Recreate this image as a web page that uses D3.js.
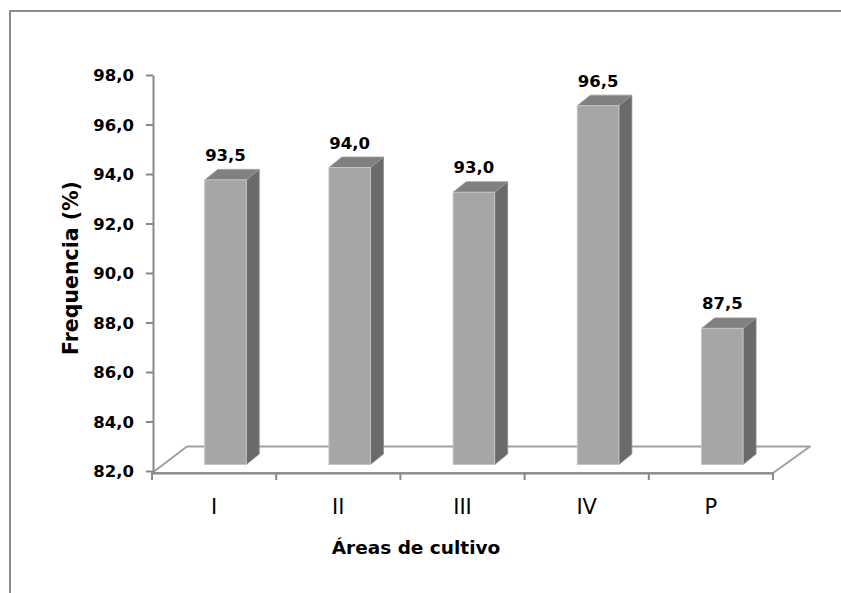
<!DOCTYPE html>
<html>
<head>
<meta charset="utf-8">
<script src="https://cdn.jsdelivr.net/npm/d3@7/dist/d3.min.js"></script>
<style>
  html, body { margin: 0; padding: 0; background: #ffffff; overflow: hidden; }
  svg { display: block; }
</style>
</head>
<body>
<svg id="chart" width="841" height="593"></svg>
<script>
// ---- Data ----
const categories = ["I", "II", "III", "IV", "P"];
const values = [93.5, 94.0, 93.0, 96.5, 87.5];
const yTicks = [82, 84, 86, 88, 90, 92, 94, 96, 98];
const yTitle = "Frequencia (%)";
const xTitle = "Áreas de cultivo";

// ---- Layout ----
const FONT = "'DejaVu Sans', Verdana, sans-serif";
const axisColor = "#888888";
const svg = d3.select("#chart");

const locale = d3.formatLocale({ decimal: ",", thousands: ".", grouping: [3], currency: ["", ""] });
const fmt = locale.format(".1f");

const x = d3.scaleBand().domain(categories).range([152, 773]).paddingInner(0).paddingOuter(0);
const y = d3.scaleLinear().domain([82, 98]).range([471, 75]);

// outer frame (only top and left edges are inside the picture)
svg.append("path")
  .attr("d", "M10,600 V11 H850")
  .attr("fill", "none")
  .attr("stroke", "#8c8c8c").attr("stroke-width", 2);

// floor (3D base)
const frontY = 473, floorDx = 35, floorDy = -26.5;
const x0 = x.range()[0], x1 = x.range()[1];
svg.append("polygon")
  .attr("points", [
    [x0, frontY], [x1, frontY], [x1 + floorDx + 2, frontY + floorDy], [x0 + floorDx, frontY + floorDy]
  ].map(p => p.join(",")).join(" "))
  .attr("fill", "#ffffff")
  .attr("stroke", "#a0a0a0").attr("stroke-width", 2)
  .attr("stroke-linejoin", "round");

// x axis (front edge) with labels
const xAxis = svg.append("g").attr("transform", `translate(0,${frontY})`)
  .call(d3.axisBottom(x).tickSize(0).tickPadding(0));
xAxis.select(".domain").attr("stroke", axisColor).attr("stroke-width", 2);
xAxis.selectAll(".tick text")
  .attr("y", 41).attr("dy", 0)
  .attr("font-family", FONT).attr("font-size", 21)
  .attr("fill", "#000000");
// boundary tick marks
const bounds = categories.map(c => x(c)).concat([x1]);
svg.append("g").selectAll("line").data(bounds).join("line")
  .attr("x1", d => d).attr("x2", d => d)
  .attr("y1", frontY).attr("y2", frontY + 7)
  .attr("stroke", axisColor).attr("stroke-width", 2);

// bars (3D columns)
const fw = 41.5, offX = 11.4, offY = -6.5, depX = 13, depY = -10.5;
const bars = svg.append("g");
categories.forEach((c, i) => {
  const v = values[i];
  const fx = x(c) + x.bandwidth() / 2 - fw / 2 + offX;
  const top = y(v) + offY;
  const base = y(82) + offY;
  // side face
  bars.append("polygon")
    .attr("points", [[fx + fw, top], [fx + fw + depX, top + depY], [fx + fw + depX, base + depY], [fx + fw, base]]
      .map(p => p.join(",")).join(" "))
    .attr("fill", "#6a6a6a").attr("stroke", "#8a8a8a").attr("stroke-width", 0.8);
  // top face
  bars.append("polygon")
    .attr("points", [[fx, top], [fx + depX, top + depY], [fx + fw + depX, top + depY], [fx + fw, top]]
      .map(p => p.join(",")).join(" "))
    .attr("fill", "#808080").attr("stroke", "#9a9a9a").attr("stroke-width", 0.8);
  // front face
  bars.append("rect")
    .attr("x", fx).attr("y", top)
    .attr("width", fw).attr("height", base - top)
    .attr("fill", "#a6a6a6").attr("stroke", "#c4c4c4").attr("stroke-width", 1);
  // value label
  bars.append("text")
    .attr("x", fx + fw / 2).attr("y", top - 19)
    .attr("text-anchor", "middle")
    .attr("font-family", FONT).attr("font-size", 16.5).attr("font-weight", "bold")
    .attr("fill", "#000000")
    .text(fmt(v));
});

// y axis
const yAxis = svg.append("g").attr("transform", "translate(153,0)")
  .call(d3.axisLeft(y).tickValues(yTicks).tickSize(7).tickSizeOuter(0).tickPadding(12).tickFormat(fmt));
yAxis.select(".domain").attr("stroke", axisColor).attr("stroke-width", 2);
yAxis.selectAll(".tick line").attr("stroke", axisColor).attr("stroke-width", 2);
yAxis.selectAll(".tick text")
  .attr("font-family", FONT).attr("font-size", 16.5).attr("font-weight", "bold")
  .attr("fill", "#000000").attr("dy", "0.36em");

// axis titles
svg.append("text")
  .attr("transform", "translate(78,268) rotate(-90)")
  .attr("text-anchor", "middle")
  .attr("font-family", FONT).attr("font-size", 20.5).attr("font-weight", "bold")
  .attr("fill", "#000000")
  .text(yTitle);

svg.append("text")
  .attr("x", 416).attr("y", 554)
  .attr("text-anchor", "middle")
  .attr("font-family", FONT).attr("font-size", 18.5).attr("font-weight", "bold")
  .attr("fill", "#000000")
  .text(xTitle);
</script>
</body>
</html>
